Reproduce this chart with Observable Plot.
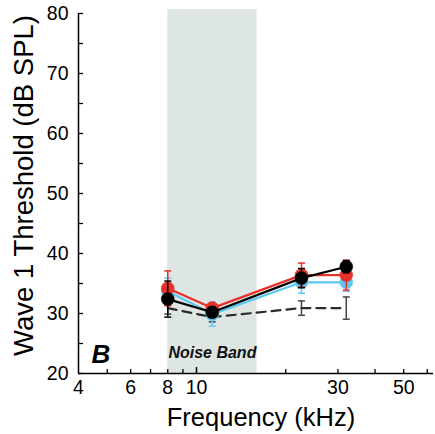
<!DOCTYPE html>
<html><head><meta charset="utf-8">
<script src="https://cdn.jsdelivr.net/npm/d3@7"></script>
<script src="https://cdn.jsdelivr.net/npm/@observablehq/plot@0.6"></script>
<style>
html,body{margin:0;padding:0;background:#fff;}
#chart svg{display:block;}
</style>
</head><body><div id="chart"></div>
<script>
const freqs = [8, 11.3, 22.6, 32];
const redVals = [34.2, 30.9, 36.4, 36.4];
const redErr = [2.9, 0.7, 2.0, 2.5];
const cyanVals = [33.7, 29.9, 35.2, 35.2];
const cyanErr = [2.2, 2.0, 1.8, 1.5];
const blackVals = [32.4, 30.2, 35.9, 37.8];
const blackErr = [3.0, 0.8, 1.6, 1.0];
const dashedVals = [30.9, 29.4, 30.9, 30.9];
const dashedErr = [1.0, 0.8, 1.2, 1.85];
const noiseBand = [8, 16];
const xTickLabels = [4, 6, 8, 10, 30, 50];
const xMinorTicks = [5, 6, 7, 8, 9, 20, 30, 40, 50, 60];
const xMajorTicks = [10];
const yTickLabels = [20, 30, 40, 50, 60, 70, 80];
const yTicks = d3.range(20, 81, 5);

const FONT = "'Liberation Sans', Arial, Helvetica, sans-serif";
const mk = (vals, errs) => freqs.map((f, i) => ({f, v: vals[i], lo: vals[i] - errs[i], hi: vals[i] + errs[i]}));
const series = [
  {data: mk(dashedVals, dashedErr), color: "#2b2b2b", dash: "9,6", dot: false, bar: "#444"},
  {data: mk(cyanVals, cyanErr), color: "#5cc8f2", dash: null, dot: true, bar: "#5cc8f2"},
  {data: mk(redVals, redErr), color: "#e8312b", dash: null, dot: true, bar: "#e8312b"},
  {data: mk(blackVals, blackErr), color: "#000", dash: null, dot: true, bar: "#000"}
];
const capSymbol = {draw(ctx, size) { const r = Math.sqrt(size / Math.PI); ctx.moveTo(-r, 0); ctx.lineTo(r, 0); }};

const marks = [
  Plot.rect([noiseBand], {x1: d => d[0], x2: d => d[1], y1: 20, y2: 80, insetTop: -4, fill: "#dde6e2"})
];
for (const s of series) {
  marks.push(Plot.ruleX(s.data, {x: "f", y1: "lo", y2: "hi", stroke: s.bar, strokeWidth: 1.5}));
  marks.push(Plot.dot(s.data, {x: "f", y: "lo", symbol: capSymbol, r: 3.5, stroke: s.bar, strokeWidth: 1.5, fill: "none"}));
  marks.push(Plot.dot(s.data, {x: "f", y: "hi", symbol: capSymbol, r: 3.5, stroke: s.bar, strokeWidth: 1.5, fill: "none"}));
  marks.push(Plot.line(s.data, {x: "f", y: "v", stroke: s.color, strokeWidth: 2.2, strokeDasharray: s.dash}));
  if (s.dot) marks.push(Plot.dot(s.data, {x: "f", y: "v", r: 6.5, fill: s.color, stroke: s.color, strokeWidth: 0.5}));
}
marks.push(
  Plot.ruleX([4], {stroke: "#000", strokeWidth: 1.5}),
  Plot.ruleY([20], {stroke: "#000", strokeWidth: 1.5}),
  Plot.axisY({ticks: yTicks, tickSize: -5, tickFormat: () => "", label: null, strokeWidth: 1.3}),
  Plot.axisY({ticks: yTickLabels, tickSize: 0, tickPadding: 10, label: null, fontSize: 19.5, fill: "#000"}),
  Plot.axisX({ticks: xMinorTicks, tickSize: -4, tickFormat: () => "", label: null, strokeWidth: 1.3}),
  Plot.axisX({ticks: xMajorTicks, tickSize: -6, tickFormat: () => "", label: null, strokeWidth: 1.5}),
  Plot.axisX({ticks: xTickLabels, tickSize: 0, tickPadding: 7, tickFormat: d => String(d), label: null, fontSize: 19.5, fill: "#000"}),
  Plot.text(["Frequency (kHz)"], {frameAnchor: "bottom", dy: 52, dx: 5, fontSize: 25.5, fill: "#000"}),
  Plot.text(["Wave 1 Threshold (dB SPL)"], {frameAnchor: "left", textAnchor: "middle", rotate: -90, dx: -54, dy: -8, fontSize: 27.5, fill: "#000"}),
  Plot.text(["B"], {frameAnchor: "bottom-left", dx: 13, dy: -11, fontSize: 26, fontWeight: "bold", fontStyle: "italic", fill: "#000"}),
  Plot.text(["Noise Band"], {x: Math.sqrt(noiseBand[0] * noiseBand[1]), frameAnchor: "bottom", dy: -16, fontSize: 16, fontWeight: "bold", fontStyle: "italic", fill: "#111"})
);

const chart = Plot.plot({
  width: 435, height: 434,
  marginLeft: 78, marginRight: 2, marginTop: 13, marginBottom: 61,
  style: {fontFamily: FONT, background: "#fff", color: "#000"},
  x: {type: "log", domain: [4, 63]},
  y: {domain: [20, 80]},
  marks
});
document.getElementById("chart").appendChild(chart);
</script></body></html>
